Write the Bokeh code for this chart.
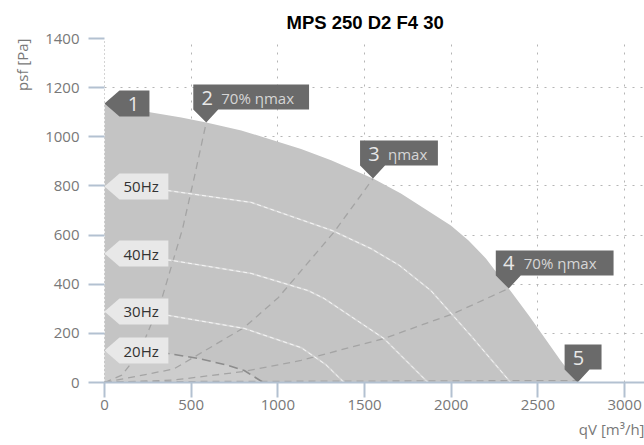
from bokeh.plotting import figure
from bokeh.models import Range1d, FixedTicker, Title
from bokeh.embed import file_html
from bokeh.resources import INLINE
from bokeh.core.properties import value

# ---------------- data ----------------
title_text = "MPS 250 D2 F4 30"
x_label = "qV [m³/h]"
y_label = "psf [Pa]"
x_ticks = [0, 500, 1000, 1500, 2000, 2500, 3000]
y_ticks = [0, 200, 400, 600, 800, 1000, 1200, 1400]

# maximum fan curve (grey operating area)
qv_max = [0, 270, 443, 587, 789, 1000, 1134, 1307, 1549, 1710, 1998, 2100, 2200, 2332, 2450, 2516, 2631, 2729]
psf_max = [1135, 1099, 1078, 1058, 1026, 980, 950, 904, 830, 769, 639, 578, 505, 383, 271, 205, 90, 0]

# frequency curves
qv_50 = [0, 368, 846, 1315, 1537, 1700, 1883, 2113, 2343]
psf_50 = [798, 781, 733, 618, 545, 477, 374, 191, 0]
qv_40 = [0, 386, 846, 1175, 1267, 1612, 1866]
psf_40 = [525, 497, 444, 374, 342, 179, 0]
qv_30 = [0, 368, 806, 1134, 1278, 1382]
psf_30 = [289, 273, 220, 142, 72, 0]
qv_20 = [0, 368, 541, 700, 806, 916]
psf_20 = [130, 118, 98, 72, 49, 0]
freq_names = ["50Hz", "40Hz", "30Hz", "20Hz"]

# system (efficiency) curves
qv_sys2 = [0, 100, 200, 330, 450, 518, 587]
psf_sys2 = [0, 30, 120, 340, 625, 835, 1058]
qv_sys3 = [0, 400, 806, 1002, 1324, 1549]
psf_sys3 = [0, 55, 224, 345, 612, 830]
qv_sys4 = [0, 400, 806, 1134, 1612, 2015, 2332]
psf_sys4 = [0, 10, 45, 90, 179, 281, 383]
qv_sys5 = [0, 2729]
psf_sys5 = [3, 8]

# operating points
op_labels = ["1", "2", "3", "4", "5"]
op_notes = ["", "70% ηmax", "ηmax", "70% ηmax", ""]
op_qv = [0, 587, 1549, 2332, 2729]
op_psf = [1135, 1058, 830, 383, 0]

# ---------------- layout ----------------
W, H = 644, 445
FL, FT, FR = 103, 38, 0
FW = W - FL - FR
FH = 344
FB = H - FT - FH
X0, X1 = 0, 3115
Y0, Y1 = 0, 1400
XS = FW / (X1 - X0)
YS = FH / (Y1 - Y0)

FONT = "Open Sans"
TICK_COL = "#b3c1d1"
LABEL_COL = "#787878"

p = figure(width=W, height=H, x_range=Range1d(X0, X1), y_range=Range1d(Y0, Y1),
           output_backend="svg", toolbar_location=None,
           min_border_left=FL, min_border_right=FR, min_border_top=FT, min_border_bottom=FB)
p.outline_line_color = None
p.background_fill_color = "white"
p.border_fill_color = "white"

p.title.text = title_text
p.title.align = "left"
p.title.offset = 182
p.title.standoff = 10
p.title.vertical_align = "middle"
p.title.text_font = "Liberation Sans"
p.title.text_font_style = "bold"
p.title.text_font_size = "18.5px"
p.title.text_color = "black"

p.xaxis.ticker = FixedTicker(ticks=x_ticks)
p.yaxis.ticker = FixedTicker(ticks=y_ticks)
for ax in (p.xaxis, p.yaxis):
    ax.major_tick_line_color = TICK_COL
    ax.major_tick_line_width = 2
    ax.major_tick_in = 0
    ax.minor_tick_line_color = None
    ax.major_label_text_font = FONT
    ax.major_label_text_font_size = "15px"
    ax.major_label_text_color = LABEL_COL
p.xaxis.axis_line_color = TICK_COL
p.xaxis.axis_line_width = 2
p.xaxis.major_tick_out = 15
p.xaxis.major_label_standoff = 2
p.yaxis.axis_line_color = "#a8a8a8"
p.yaxis.axis_line_dash = "1 3"
p.yaxis.major_tick_out = 16
p.yaxis.major_label_standoff = 9

# axis titles placed at the axis ends
p.add_layout(Title(text=x_label, align="right", vertical_align="middle", standoff=10,
                   text_font=FONT, text_font_size="15px", text_font_style="normal",
                   text_color=LABEL_COL), "below")
p.add_layout(Title(text=y_label, align="right", vertical_align="middle", standoff=20,
                   text_font=FONT, text_font_size="15px", text_font_style="normal",
                   text_color=LABEL_COL), "left")

for g in (p.xgrid, p.ygrid):
    g.grid_line_color = "#b5b5b5"
    g.grid_line_dash = "2 6"
    g.grid_line_width = 1

# operating areas
p.varea(x=qv_max, y1=[0] * len(qv_max), y2=psf_max, fill_color="#c4c4c4")
p.varea(x=qv_20, y1=[0] * len(qv_20), y2=psf_20, fill_color="#cdcdcd")

# system curves
for xs, ys in ((qv_sys2, psf_sys2), (qv_sys3, psf_sys3), (qv_sys4, psf_sys4), (qv_sys5, psf_sys5)):
    p.line(xs, ys, line_color="#a4a4a4", line_dash="7 5", line_width=1.3)

# frequency curves
for xs, ys in ((qv_50, psf_50), (qv_40, psf_40), (qv_30, psf_30)):
    p.line(xs, ys, line_color="#d4d4d4", line_width=1.8)
    p.line(xs, ys, line_color="#f6f6f6", line_dash="4 3", line_width=1.0)
p.line(qv_20, psf_20, line_color="#8c8c8c", line_dash="9 5", line_width=1.6)


def shape(tx, ty, offs):
    return [tx + ox / XS for ox, oy in offs], [ty + oy / YS for ox, oy in offs]


def down_callout(w):
    return [(0, 0), (-13, 13), (-13, 38), (w - 13, 38), (w - 13, 13), (12, 13)]


def left_callout(w):
    return [(0, 0), (15, 13), (15 + w, 13), (15 + w, -13), (15, -13)]


# callout geometry (pixels)
op_widths = [30, 116, 78, 118, 37]
xs_all, ys_all = [], []
for i, (qx, py) in enumerate(zip(op_qv, op_psf)):
    offs = left_callout(op_widths[i]) if i == 0 else down_callout(op_widths[i])
    sx, sy = shape(qx, py, offs)
    xs_all.append(sx)
    ys_all.append(sy)
p.patches(xs_all, ys_all, fill_color="#6a6a6a", line_color=None)

num_xo = [29, 1, 1, 0, 1]
num_yo = [0, -25, -25, -25, -25]
p.text(x=op_qv, y=op_psf, text=op_labels, x_offset=num_xo, y_offset=num_yo,
       text_font=value(FONT), text_font_size="20px", text_color="#e8e8e8",
       text_align="center", text_baseline="middle")
p.text(x=op_qv, y=op_psf, text=op_notes, x_offset=15, y_offset=-25,
       text_font=value(FONT), text_font_size="15px", text_color="#d6d6d6",
       text_align="left", text_baseline="middle")

# frequency labels
f_starts = [psf_50[0], psf_40[0], psf_30[0], psf_20[0]]
f_x = [qv_50[0], qv_40[0], qv_30[0], qv_20[0]]
fxs, fys = [], []
for qx, py in zip(f_x, f_starts):
    sx, sy = shape(qx, py, left_callout(49))
    fxs.append(sx)
    fys.append(sy)
p.patches(fxs, fys, fill_color="#e8e8e8", line_color=None)
p.text(x=f_x, y=f_starts, text=freq_names, x_offset=19, y_offset=0,
       text_font=value(FONT), text_font_size="15px", text_color="#333333",
       text_align="left", text_baseline="middle")

open("out.html", "w").write(file_html(p, INLINE))
